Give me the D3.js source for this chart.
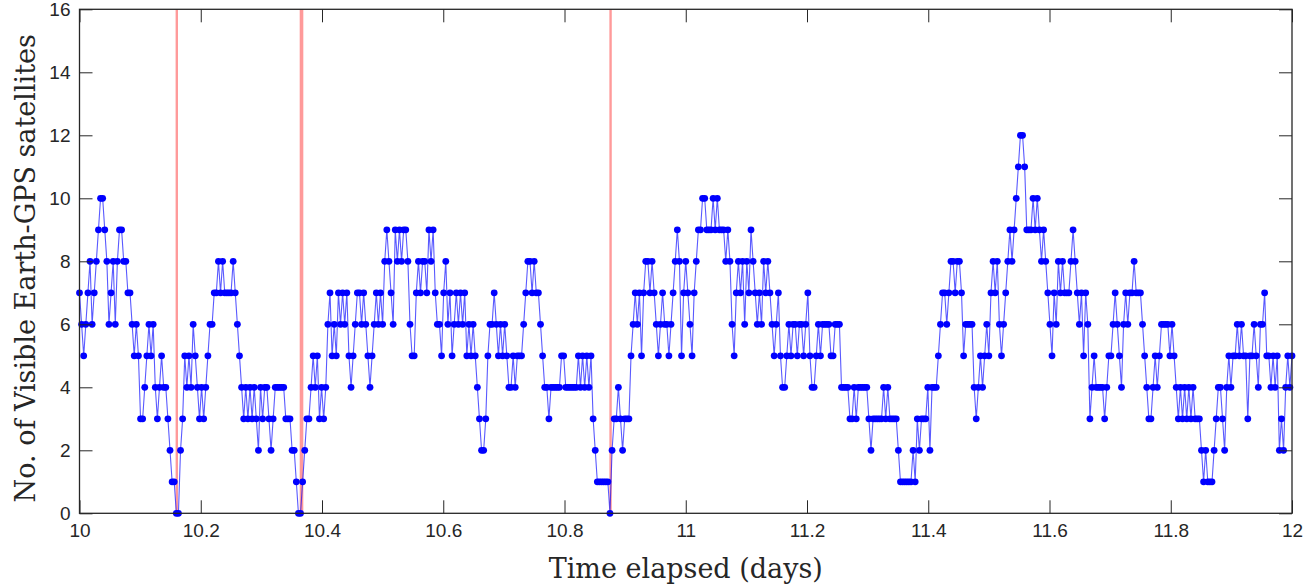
<!DOCTYPE html>
<html>
<head>
<meta charset="utf-8">
<script src="https://cdn.jsdelivr.net/npm/d3@7"></script>
<style>
  body { margin: 0; background: #fff; }
  svg { display: block; }
</style>
</head>
<body>
<div id="chart"></div>
<script>
// visible satellite count, one sample every 5 minutes from day 10 to day 12
const sampleStartDay = 10;
const samplesPerDay = 288;
const satCounts = [
  7,6,5,6,7,8,6,7,8,9, 10,10,9,8,6,7,8,6,8,9, 9,8,8,7,7,6,5,6,5,3, 3,4,5,6,5,6,4,3,4,5,
  4,4,3,2,1,1,0,0,2,3, 5,4,5,4,6,5,4,3,4,3, 4,5,6,6,7,7,8,7,8,7, 7,7,7,8,7,6,5,4,3,4,
  3,4,3,4,3,2,4,3,4,4, 3,2,3,4,4,4,4,4,3,3, 3,2,2,1,0,0,1,2,3,3, 4,5,4,5,3,4,3,4,6,7,
  5,6,5,7,6,7,6,7,5,4, 5,6,7,7,6,7,6,5,4,5, 6,7,6,7,6,8,9,8,7,6, 9,8,9,8,9,9,8,6,5,5,
  7,8,7,8,8,7,9,8,9,7, 6,6,5,7,8,6,7,5,6,7, 6,7,6,7,5,6,5,6,5,4, 3,2,2,3,5,6,6,7,6,5,
  6,5,6,5,4,4,5,4,5,5, 5,6,7,8,8,7,8,7,7,6, 5,4,4,3,4,4,4,4,4,5, 5,4,4,4,4,4,4,5,4,5,
  4,5,4,5,3,2,1,1,1,1, 1,1,0,2,3,3,4,3,2,3, 3,3,5,6,7,6,7,5,7,8, 8,7,8,7,6,5,6,7,6,6,
  5,6,7,8,9,8,5,7,8,7, 6,5,7,8,9,9,10,10,9,9, 9,10,9,10,9,9,9,8,9,8, 6,5,7,8,7,8,6,8,7,9,
  8,7,6,7,6,8,7,8,7,6, 5,6,7,5,4,4,5,6,5,6, 6,5,6,6,5,6,7,5,4,4, 5,6,5,6,6,6,6,5,5,6,
  6,6,4,4,4,4,3,3,4,3, 4,4,4,4,4,3,2,3,3,3, 3,3,4,3,4,3,3,3,3,2, 1,1,1,1,1,1,2,1,3,2,
  3,3,3,4,2,4,4,4,5,6, 7,7,6,7,8,8,7,8,8,7, 5,6,6,6,6,4,3,4,5,4, 5,6,5,7,8,7,8,6,5,6,
  7,8,9,8,9,10,11,12,12,11, 9,9,9,10,9,10,9,8,9,8, 7,6,5,7,6,8,7,8,7,7, 7,8,9,8,7,6,7,5,7,6,
  3,4,5,4,4,4,4,3,4,5, 5,6,7,6,5,4,6,7,6,7, 7,8,7,7,7,6,5,4,3,3, 4,5,4,5,6,6,6,6,5,6,
  5,4,3,4,3,4,3,4,3,4, 3,3,3,2,1,2,1,1,1,2, 3,4,4,3,2,4,5,4,5,5, 6,5,6,5,5,3,5,5,6,5,
  4,6,6,7,5,5,4,5,4,5, 2,3,2,4,5,4,5
];

// coverage outages (days), marked in red
const outageDays = [10.1605, 10.3652, 10.3672, 10.876];

const xTicks = [10, 10.2, 10.4, 10.6, 10.8, 11, 11.2, 11.4, 11.6, 11.8, 12];
const yTicks = [0, 2, 4, 6, 8, 10, 12, 14, 16];

const xLabel = "Time elapsed (days)";
const yLabel = "No. of Visible Earth-GPS satellites";

const width = 1312, height = 588;
const margin = { left: 79.5, right: 20, top: 9.3, bottom: 74.7 };
const plotW = width - margin.left - margin.right;
const plotH = height - margin.top - margin.bottom;
const tickLen = 13;
const axisColor = "#262626";

const points = satCounts.map((v, i) => ({ t: sampleStartDay + i / samplesPerDay, v }));

const svg = d3.select("#chart").append("svg")
  .attr("width", width)
  .attr("height", height);

const g = svg.append("g")
  .attr("transform", `translate(${margin.left},${margin.top})`);

const x = d3.scaleLinear().domain([10, 12]).range([0, plotW]);
const y = d3.scaleLinear().domain([0, 16]).range([plotH, 0]);

// red outage markers behind the data
g.selectAll("line.outage")
  .data(outageDays)
  .enter().append("line")
  .attr("class", "outage")
  .attr("x1", d => x(d)).attr("x2", d => x(d))
  .attr("y1", 0).attr("y2", plotH)
  .attr("stroke", "#ff9a9a")
  .attr("stroke-width", 2.4);

const line = d3.line()
  .x(d => x(d.t))
  .y(d => y(d.v));

g.append("path")
  .datum(points)
  .attr("d", line)
  .attr("fill", "none")
  .attr("stroke", "#0000ff")
  .attr("stroke-opacity", 0.65)
  .attr("stroke-width", 1.1);

g.selectAll("circle")
  .data(points)
  .enter().append("circle")
  .attr("cx", d => x(d.t))
  .attr("cy", d => y(d.v))
  .attr("r", 3.4)
  .attr("fill", "#0000ff");

// axes: MATLAB style box, ticks pointing inward
const fmt = d3.format("~f");
const styleAxis = sel => {
  sel.select(".domain").remove();
  sel.selectAll(".tick line").attr("stroke", axisColor).attr("stroke-width", 1);
  sel.selectAll(".tick text")
    .attr("fill", axisColor)
    .style("font-family", "'Liberation Sans', Arial, sans-serif")
    .style("font-size", "19px");
};

g.append("g")
  .attr("transform", `translate(0,${plotH})`)
  .call(d3.axisBottom(x).tickValues(xTicks).tickFormat(fmt)
    .tickSizeInner(-tickLen).tickSizeOuter(0).tickPadding(10))
  .call(styleAxis);

g.append("g")
  .call(d3.axisTop(x).tickValues(xTicks).tickFormat("")
    .tickSizeInner(-tickLen).tickSizeOuter(0))
  .call(styleAxis);

g.append("g")
  .call(d3.axisLeft(y).tickValues(yTicks).tickFormat(fmt)
    .tickSizeInner(-tickLen).tickSizeOuter(0).tickPadding(9))
  .call(styleAxis);

g.append("g")
  .attr("transform", `translate(${plotW},0)`)
  .call(d3.axisRight(y).tickValues(yTicks).tickFormat("")
    .tickSizeInner(-tickLen).tickSizeOuter(0))
  .call(styleAxis);

g.append("rect")
  .attr("width", plotW)
  .attr("height", plotH)
  .attr("fill", "none")
  .attr("stroke", axisColor)
  .attr("stroke-width", 1.3);

// axis labels
const serif = "'DejaVu Serif', 'Liberation Serif', serif";

svg.append("text")
  .attr("x", margin.left + plotW / 2)
  .attr("y", 578)
  .attr("text-anchor", "middle")
  .attr("fill", axisColor)
  .style("font-family", serif)
  .style("font-size", "27px")
  .text(xLabel);

svg.append("text")
  .attr("transform", `translate(35,${margin.top + plotH / 2 + 7}) rotate(-90)`)
  .attr("text-anchor", "middle")
  .attr("fill", axisColor)
  .style("font-family", serif)
  .style("font-size", "27px")
  .text(yLabel);
</script>
</body>
</html>
